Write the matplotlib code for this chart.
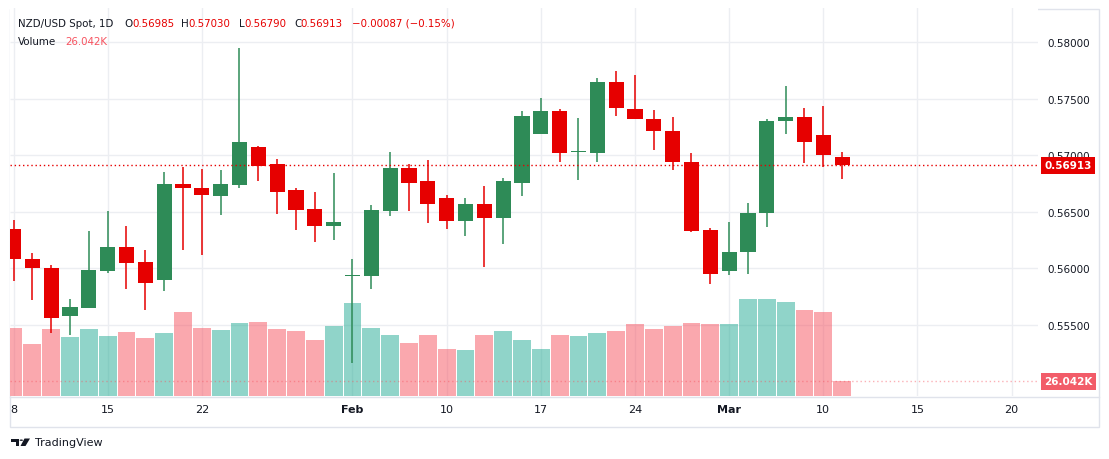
import matplotlib
matplotlib.use("Agg")
import matplotlib.pyplot as plt
from matplotlib.transforms import blended_transform_factory
from matplotlib.patches import Rectangle, Polygon, Circle
from matplotlib.lines import Line2D

# ---------------- data ----------------
opens = [0.5635, 0.5608, 0.5600, 0.5558, 0.5565, 0.5598, 0.5619, 0.5606, 0.5590, 0.5675,
         0.5671, 0.5664, 0.5674, 0.5707, 0.5692, 0.5669, 0.5653, 0.5638, 0.5593, 0.5593,
         0.5651, 0.5689, 0.5677, 0.5662, 0.5642, 0.5657, 0.5645, 0.5676, 0.5719, 0.5739,
         0.5703, 0.5702, 0.5765, 0.5741, 0.5732, 0.5722, 0.5694, 0.5634, 0.5598, 0.5615,
         0.5649, 0.5730, 0.5734, 0.5718, 0.56985]
highs = [0.5643, 0.5614, 0.5603, 0.5573, 0.5633, 0.5651, 0.5638, 0.5616, 0.5685, 0.5690,
         0.5688, 0.5687, 0.5795, 0.5708, 0.5697, 0.5671, 0.5668, 0.5684, 0.5608, 0.5656,
         0.5703, 0.5692, 0.5696, 0.5665, 0.5662, 0.5673, 0.5680, 0.5739, 0.5751, 0.5741,
         0.5733, 0.5768, 0.5775, 0.5771, 0.5740, 0.5734, 0.5702, 0.5636, 0.5641, 0.5658,
         0.5732, 0.5761, 0.5742, 0.5744, 0.57030]
lows = [0.5589, 0.5572, 0.5543, 0.5541, 0.5565, 0.5596, 0.5582, 0.5563, 0.5580, 0.5616,
        0.5612, 0.5647, 0.5671, 0.5677, 0.5648, 0.5634, 0.5623, 0.5625, 0.5516, 0.5582,
        0.5646, 0.5651, 0.5640, 0.5635, 0.5629, 0.5601, 0.5622, 0.5664, 0.5719, 0.5694,
        0.5678, 0.5694, 0.5735, 0.5732, 0.5705, 0.5687, 0.5632, 0.5586, 0.5594, 0.5595,
        0.5637, 0.5719, 0.5693, 0.5690, 0.56790]
closes = [0.5608, 0.5600, 0.5556, 0.5566, 0.5599, 0.5619, 0.5605, 0.5587, 0.5675, 0.5671,
          0.5665, 0.5675, 0.5712, 0.5691, 0.5668, 0.5652, 0.5638, 0.5641, 0.5594, 0.5652,
          0.5689, 0.5676, 0.5657, 0.5642, 0.5657, 0.5645, 0.5677, 0.5735, 0.5739, 0.5702,
          0.5704, 0.5765, 0.5742, 0.5732, 0.5722, 0.5694, 0.5633, 0.5595, 0.5615, 0.5649,
          0.5730, 0.5734, 0.5712, 0.5700, 0.56913]
volumes_k = [119.0, 91.0, 117.0, 103.0, 117.0, 105.0, 112.0, 101.5, 110.0, 147.0,
             119.0, 115.5, 128.0, 129.5, 117.0, 114.0, 98.0, 122.5, 163.0, 119.0,
             107.0, 93.0, 107.0, 82.0, 80.5, 107.0, 114.0, 98.0, 82.0, 107.0,
             105.0, 110.0, 114.0, 126.0, 117.0, 122.5, 128.0, 126.0, 126.0, 170.0,
             170.0, 164.5, 150.5, 147.0, 26.042]
x_tick_pos = [0, 5, 10, 18, 23, 28, 33, 38, 43, 48, 53]
x_tick_labels = ["8", "15", "22", "Feb", "10", "17", "24", "Mar", "10", "15", "20"]
price_ticks = [0.555, 0.560, 0.565, 0.570, 0.575, 0.580]
symbol = "NZD/USD Spot, 1D"

# ---------------- style ----------------
RED = "#e60000"
GREEN = "#2e8b57"
VOL_RED = (247/255, 82/255, 95/255, 0.5)
VOL_GREEN = (34/255, 171/255, 148/255, 0.5)
TXT = "#131722"
GRID = "#eceef2"
BORDER = "#e0e3eb"

W, H = 1109, 460
fig = plt.figure(figsize=(W/100, H/100), dpi=100)
fig.patch.set_facecolor("white")

def fx(px):
    return px / W

def fy(py):
    return 1 - py / H

L, R, T, B = 10, 1038, 9, 397
pos = [fx(L), fy(B), (R - L) / W, (B - T) / H]
axv = fig.add_axes(pos)
ax = fig.add_axes(pos)
ax.set_zorder(2)
axv.set_zorder(1)
ax.patch.set_visible(False)

n = len(opens)
idx = list(range(n))
xlim = (-0.186, 54.4)
ylim = (0.548726, 0.583033)
ax.set_xlim(*xlim)
axv.set_xlim(*xlim)
ax.set_ylim(*ylim)
axv.set_ylim(0, 679)

for a in (ax, axv):
    for s in a.spines.values():
        s.set_visible(False)

# grid (on bottom axes so volume bars sit over it)
axv.set_xticks(x_tick_pos)
axv.set_xticklabels(x_tick_labels)
axv.set_yticks([])
axv.grid(axis="x", color=GRID, lw=1)
axv.set_axisbelow(True)
tr = blended_transform_factory(axv.transAxes, ax.transData)
axv.hlines(price_ticks, 0, 1, transform=tr, color=GRID, lw=1, zorder=0)
axv.tick_params(axis="x", length=0, pad=6, labelsize=8, labelcolor=TXT)
for lab in axv.get_xticklabels():
    if lab.get_text() in ("Feb", "Mar"):
        lab.set_fontweight("bold")

# volume
vcols = [VOL_GREEN if c >= o else VOL_RED for o, c in zip(opens, closes)]
axv.bar(idx, volumes_k, width=0.945, color=vcols, zorder=2)
axv.axhline(volumes_k[-1], color=(247/255, 82/255, 95/255, 0.45), lw=1, ls=(0, (1, 2)), zorder=3)

# candles
ccols = [GREEN if c >= o else RED for o, c in zip(opens, closes)]
ax.vlines(idx, lows, highs, colors=ccols, lw=1.1, zorder=3)
min_h = 0.00011
bottoms = [min(o, c) for o, c in zip(opens, closes)]
heights = [max(abs(c - o), min_h) for o, c in zip(opens, closes)]
ax.bar(idx, heights, bottom=bottoms, width=0.8, color=ccols, zorder=4)
ax.axhline(closes[-1], color=RED, lw=1, ls=(0, (1, 2)), zorder=5)

# price axis
ax.set_xticks([])
ax.yaxis.tick_right()
ax.set_yticks(price_ticks)
ax.set_yticklabels([f"{p:.5f}" for p in price_ticks])
ax.tick_params(axis="y", length=0, pad=6.5, labelsize=7.5, labelcolor=TXT)

ax.text(1 + 6.5 / 1028, closes[-1], f"{closes[-1]:.5f}", transform=ax.get_yaxis_transform(),
        ha="left", va="center", color="white", fontsize=7.5, fontweight="bold",
        bbox=dict(boxstyle="square,pad=0.33", fc=RED, ec="none"), clip_on=False, zorder=20)
axv.text(1 + 6.5 / 1028, volumes_k[-1], f"{volumes_k[-1]:.3f}K", transform=axv.get_yaxis_transform(),
         ha="left", va="center", color="white", fontsize=7.5, fontweight="bold",
         bbox=dict(boxstyle="square,pad=0.33", fc="#f25c69", ec="none"), clip_on=False, zorder=20)

# borders
def prect(x0, y0, x1, y1, **kw):
    fig.add_artist(Rectangle((fx(x0), fy(y1)), fx(x1) - fx(x0), fy(y0) - fy(y1),
                             transform=fig.transFigure, **kw))

prect(9.5, 9.5, 1098.5, 427.5, fill=False, ec=BORDER, lw=1)
fig.add_artist(Line2D([fx(9.5), fx(1098.5)], [fy(397.5), fy(397.5)], transform=fig.transFigure,
                      color=BORDER, lw=1))

# header
chg = closes[-1] - closes[-2]
pct = chg / closes[-2] * 100
def fmt_signed(v, d):
    s = f"{abs(v):.{d}f}"
    return ("\u2212" if v < 0 else "+") + s
vals_col = RED if closes[-1] < opens[-1] else GREEN
head = [
    (symbol, 18, TXT),
    ("O", 124, TXT), (f"{opens[-1]:.5f}", 132, vals_col),
    ("H", 181, TXT), (f"{highs[-1]:.5f}", 188, vals_col),
    ("L", 239, TXT), (f"{lows[-1]:.5f}", 244, vals_col),
    ("C", 294, TXT), (f"{closes[-1]:.5f}", 300, vals_col),
    (f"{fmt_signed(chg, 5)} ({fmt_signed(pct, 2)}%)", 352, vals_col),
]
for s, x, c in head:
    fig.text(fx(x), fy(24), s, color=c, fontsize=7.4, ha="left", va="center")
fig.text(fx(18), fy(42), "Volume", color=TXT, fontsize=7.4, ha="left", va="center")
fig.text(fx(65), fy(42), f"{volumes_k[-1]:.3f}K", color="#f7525f", fontsize=7.4, ha="left", va="center")

# TradingView logo
def ppoly(pts, **kw):
    fig.add_artist(Polygon([(fx(x), fy(y)) for x, y in pts], closed=True,
                           transform=fig.transFigure, **kw))

ppoly([(11, 439.5), (18.5, 439.5), (18.5, 447), (15.5, 447), (15.5, 442.5), (11, 442.5)], fc=TXT, ec="none")
fig.add_artist(Circle((fx(21.3), fy(441.2)), 1.7 / W, transform=fig.transFigure, fc=TXT, ec="none"))
ppoly([(24.5, 439.5), (30, 439.5), (25.5, 447), (20.5, 447)], fc=TXT, ec="none")
fig.text(fx(35), fy(443), "TradingView", color=TXT, fontsize=8, ha="left", va="center")

fig.savefig("out.png", dpi=100, facecolor="white")
